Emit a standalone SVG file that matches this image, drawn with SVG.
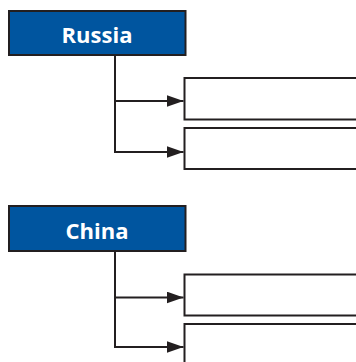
<svg xmlns="http://www.w3.org/2000/svg" width="356" height="362" viewBox="0 0 356 362">
<defs>
<style>
.hdr{fill:#00559f;stroke:#231f20;stroke-width:2}
.lbl{fill:#fff;font-family:"Open Sans","Liberation Sans",sans-serif;font-weight:700;font-size:22px;text-anchor:middle}
.box{fill:#fff;stroke:#231f20;stroke-width:2}
.con{fill:none;stroke:#231f20;stroke-width:2}
</style>
<marker id="ah" viewBox="0 0 17 12" refX="17" refY="6" markerWidth="17" markerHeight="12" markerUnits="userSpaceOnUse" orient="auto"><path d="M0,0L17,6L0,12z" fill="#231f20"/></marker>
</defs>
<g id="russia"><rect class="hdr" x="9" y="11" width="176.5" height="44"/><text class="lbl" x="97" y="43">Russia</text></g>
<g id="r1"><rect class="box" x="184.5" y="78" width="180" height="41.5"/></g>
<g id="r2"><rect class="box" x="184.5" y="128" width="180" height="41"/></g>
<g id="china"><rect class="hdr" x="9" y="206" width="176.5" height="45"/><text class="lbl" x="97" y="239">China</text></g>
<g id="c1"><rect class="box" x="184.5" y="274.5" width="180" height="41"/></g>
<g id="c2"><rect class="box" x="184.5" y="324" width="180" height="60"/></g>
<g id="connectors">
<path class="con" d="M115,55V152H183.5" marker-end="url(#ah)"/>
<path class="con" d="M115,101H183.5" marker-end="url(#ah)"/>
<path class="con" d="M115,251V347H183.5" marker-end="url(#ah)"/>
<path class="con" d="M115,297.5H183.5" marker-end="url(#ah)"/>
</g>
</svg>
